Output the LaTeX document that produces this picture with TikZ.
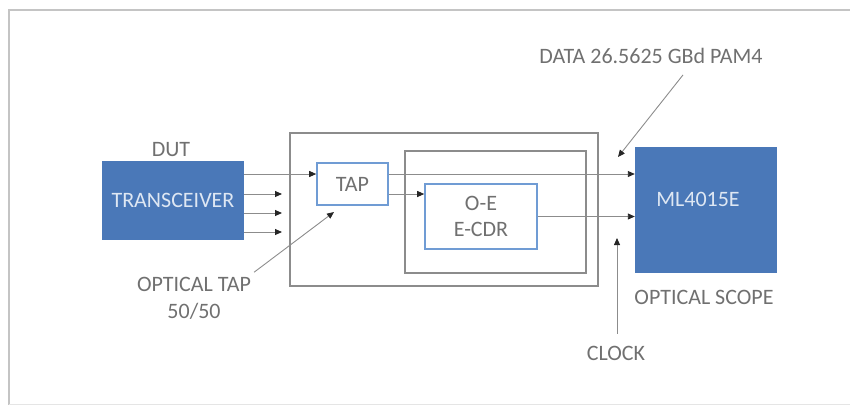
\documentclass[tikz,border=0pt]{standalone}
\usepackage{fontspec}
\setmainfont{Carlito}
\usetikzlibrary{arrows.meta}
\definecolor{boxblue}{RGB}{74,120,184}
\definecolor{edgeblue}{RGB}{112,156,212}
\definecolor{txtgray}{RGB}{112,112,112}
\definecolor{linegray}{RGB}{140,140,140}
\definecolor{framegray}{RGB}{196,196,196}
\definecolor{boxtext}{RGB}{222,231,243}
\tikzset{
  lbl/.style={text=txtgray, font=\fontsize{22}{27}\selectfont, inner sep=3pt, align=center},
  bluebox/.style={rectangle, fill=boxblue, draw=none, text=boxtext, font=\fontsize{22}{27}\selectfont},
  edgebox/.style={rectangle, draw=edgeblue, line width=1.6pt, fill=white, text=txtgray, font=\fontsize{22}{26}\selectfont, align=center},
  framebox/.style={rectangle, draw=linegray, line width=1.5pt},
  arr/.style={draw=linegray, line width=0.9pt, -{Triangle[length=7pt,width=6pt,fill=black!85,color=black!85]}},
}
\begin{document}
\begin{tikzpicture}[x=1pt,y=-1pt]
\useasboundingbox (0,0) rectangle (850,405);
% outer frame
\draw[framegray, line width=2.5pt] (850,10) -- (9,10) -- (9,405);
\draw[black!10, line width=1pt] (9,404) -- (850,404);

% enclosing boxes
\node[framebox, minimum width=308pt, minimum height=153pt] (outer) at (444,209.5) {};
\node[framebox, minimum width=181pt, minimum height=122pt] (inner) at (495.5,212) {};

% main blocks
\node[bluebox, minimum width=142pt, minimum height=79pt] (trx) at (173,200.5) {TRANSCEIVER};
\node[lbl] (dut) at (171,150) {DUT};
\node[edgebox, minimum width=71pt, minimum height=42pt] (tap) at (352.5,184) {TAP};
\node[edgebox, minimum width=112pt, minimum height=65pt] (oe) at (481,216.5) {O-E\\E-CDR};
\node[bluebox, minimum width=142pt, minimum height=126pt] (scope) at (706,210) {};
\node[text=boxtext, font=\fontsize{22}{27}\selectfont] (scopetxt) at (698,199) {ML4015E};

% labels
\node[lbl] (scopelbl) at (704,297) {OPTICAL SCOPE};
\node[lbl] (data) at (651,56) {DATA 26.5625 GBd PAM4};
\node[lbl] (clock) at (616,353) {CLOCK};
\node[lbl] (optap) at (194,298.5) {OPTICAL TAP\\50/50};

% coordinates
\coordinate (ya) at (0,174);
\coordinate (yb) at (0,194);
\coordinate (s1) at (282,194);
\coordinate (s2) at (282,213);
\coordinate (s3) at (282,232);
\coordinate (dtip) at (618,157);
\coordinate (ctip) at (617,238);
\coordinate (ttip) at (334,212);

% connectors
\draw[arr] (trx.east |- ya) -- (tap.west |- ya);
\draw[arr] (trx.east |- s1) -- (s1);
\draw[arr] (trx.east |- s2) -- (s2);
\draw[arr] (trx.east |- s3) -- (s3);
\draw[arr] (tap.east |- yb) -- (oe.west |- yb);
\draw[arr] (tap.east |- ya) -- (scope.west |- ya);
\draw[arr] (oe.east) -- (scope.west |- oe.east);
\draw[arr] ([xshift=32pt,yshift=-8pt]data.south) -- (dtip);
\draw[arr] ([xshift=1pt,yshift=9pt]clock.north) -- (ctip);
\draw[arr] ([xshift=0pt,yshift=2pt]optap.north east) -- (ttip);
\end{tikzpicture}
\end{document}
